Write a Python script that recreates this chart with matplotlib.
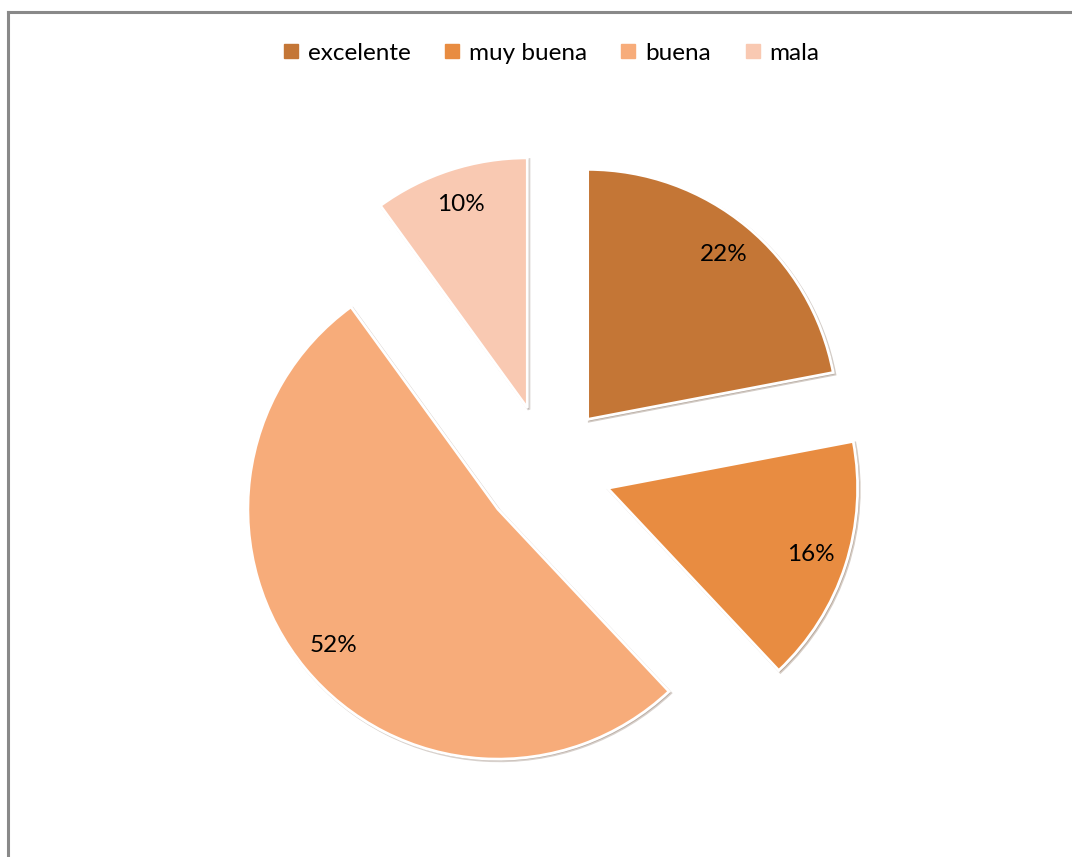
import matplotlib
matplotlib.use("Agg")
import matplotlib.pyplot as plt
from matplotlib.lines import Line2D

plt.rcParams['font.family'] = ['Lato', 'DejaVu Sans']

# survey ratings
labels = ["excelente", "muy buena", "buena", "mala"]
values = [22, 16, 52, 10]
colors = ["#C47636", "#E88C41", "#F7AC7A", "#F9C9B2"]
explode_frac = [0.255, 0.255, 0.255, 0.255]

W, H = 1072, 857
fig = plt.figure(figsize=(W / 100, H / 100), dpi=100)
ax = fig.add_axes([0, 0, 1, 1])

radius = 250
center = (547, H - 468.5)
# pie explode is in data units, so scale by the radius
wedges, texts, autotexts = ax.pie(
    values,
    colors=colors,
    explode=[f * radius for f in explode_frac],
    startangle=90,
    counterclock=False,
    radius=radius,
    center=center,
    autopct="%d%%",
    pctdistance=0.855,
    wedgeprops=dict(edgecolor="white", linewidth=2),
    shadow=dict(ox=1.2, oy=-1.2, shade=0.6, alpha=0.25),
    textprops=dict(fontsize=17.5, color="black"),
)
ax.set_xlim(0, W)
ax.set_ylim(0, H)
ax.set_aspect("equal")
ax.axis("off")

handles = [Line2D([], [], marker="s", linestyle="none", markersize=9.5,
                  markerfacecolor=c, markeredgecolor=c) for c in colors]
fig.legend(handles, labels, loc="center", bbox_to_anchor=(0.514, 1 - 53 / H),
           ncol=4, frameon=False, fontsize=17.5, handlelength=0.7,
           handletextpad=0.35, columnspacing=1.35)

# outer chart border (left and top edges)
border = dict(color="#898989", linewidth=2.2, transform=fig.transFigure)
fig.add_artist(Line2D([8 / W, 8 / W], [0, 1 - 12 / H], **border))
fig.add_artist(Line2D([8 / W, 1], [1 - 12 / H, 1 - 12 / H], **border))

fig.savefig("out.png", dpi=100)
